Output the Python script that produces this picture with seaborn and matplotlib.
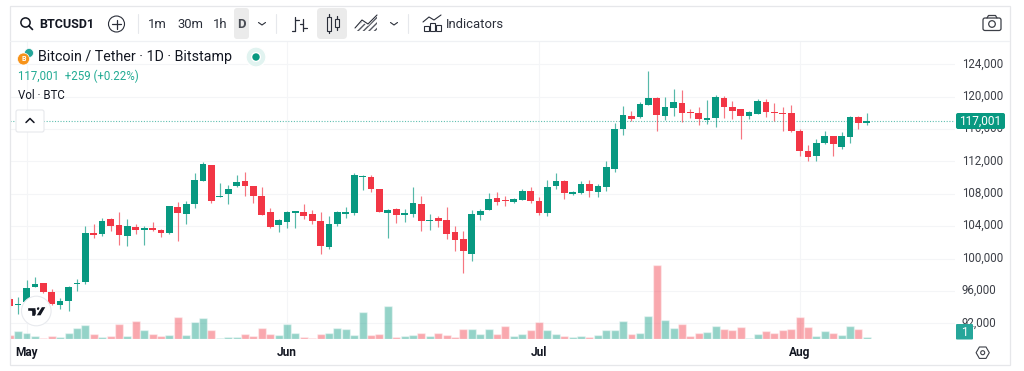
"""BTCUSD daily candles with volume, TradingView widget look."""
import numpy as np
import pandas as pd
import matplotlib
matplotlib.use('Agg')
import matplotlib.pyplot as plt
from matplotlib.patches import Circle, FancyBboxPatch, Polygon, Rectangle
from matplotlib.transforms import ScaledTranslation
import seaborn as sns

start_date = "2025-04-29"
opens = [94965, 94286, 94669, 96522, 96942, 95904, 94224, 94718, 96856, 97066,
         103120, 103070, 104887, 104108, 102786, 103935, 103527, 103738, 103527, 103120,
         106332, 105541, 106777, 109619, 111521, 107605, 107975, 108927, 109544, 108964,
         107691, 105751, 104108, 104553, 105665, 105789, 105504, 104677, 101427, 104269,
         105467, 105628, 110039, 110039, 108593, 105628, 106122, 105418, 105504, 106777,
         104602, 105047, 104726, 103256, 102354, 100600, 105381, 106035, 107444, 107197,
         107024, 107234, 108309, 107110, 105628, 108964, 109619, 107975, 108062, 109211,
         108259, 108877, 111101, 116006, 117612, 117452, 119008, 119873, 117575, 118638,
         119181, 118144, 117946, 117155, 117365, 119836, 118724, 118440, 117612, 117896,
         119379, 118106, 117983, 117946, 115759, 113288, 112670, 114239, 115104, 113782,
         114981, 117452, 116742]
highs = [95250, 95213, 97350, 97757, 96979, 96201, 95089, 96609, 97474, 104059,
         104232, 104973, 104973, 105714, 104924, 104232, 104022, 104479, 103688, 106530,
         106987, 107110, 110607, 111892, 111558, 109372, 109087, 110286, 110693, 109001,
         108877, 106209, 104850, 105875, 105875, 106740, 105998, 105751, 105257, 105875,
         106369, 110533, 110286, 110286, 108630, 106085, 106209, 106085, 108840, 107728,
         105541, 105220, 106406, 104022, 103367, 105937, 106085, 108136, 108260, 107691,
         107481, 108556, 108803, 107568, 109742, 110533, 109668, 108383, 109544, 109668,
         109174, 112015, 116710, 118811, 118193, 119305, 123135, 119923, 119997, 120911,
         120787, 118477, 118761, 119589, 120207, 120083, 119465, 118477, 118230, 119713,
         119676, 119218, 118724, 118934, 116006, 114029, 114734, 115759, 115141, 115673,
         117575, 117649, 117946]
lows = [94014, 93112, 94508, 96448, 95793, 94261, 93767, 93557, 95991, 96893,
        102539, 102786, 103441, 101637, 101588, 103070, 101674, 103404, 102699, 103083,
        102168, 104269, 106283, 109581, 106863, 107568, 106777, 108803, 107765, 106826,
        105344, 103775, 103243, 103812, 103738, 104924, 104269, 100562, 101217, 103984,
        105010, 105344, 108469, 108222, 105751, 102576, 104392, 104516, 105097, 103441,
        103527, 103935, 102416, 100958, 98215, 99697, 104800, 105961, 106653, 106456,
        106900, 107197, 106826, 105418, 105220, 108630, 107394, 107913, 107938, 107568,
        107568, 108383, 110656, 115302, 117032, 117365, 118971, 115796, 117155, 117612,
        116908, 117402, 116537, 116661, 116290, 117365, 117279, 114771, 117279, 117822,
        117489, 116994, 115759, 115635, 112707, 112052, 112015, 114190, 112707, 113498,
        114313, 116006, 116500]
closes = [94175, 94410, 96325, 96819, 95830, 94348, 94755, 96522, 97017, 103120,
          102947, 104677, 104022, 102873, 104059, 103527, 103775, 103490, 103194, 106493,
          105591, 106777, 109742, 111682, 107073, 107728, 108556, 109458, 108927, 107765,
          105418, 103935, 104726, 105751, 105838, 105257, 104677, 101551, 104306, 105751,
          105751, 110323, 110199, 108630, 105789, 106035, 105418, 105628, 106826, 104677,
          104800, 104639, 103070, 102255, 100933, 105504, 105838, 107321, 107024, 107073,
          107321, 108383, 107073, 105628, 108840, 109544, 108099, 108185, 109211, 108309,
          108927, 111348, 116006, 117699, 117242, 119095, 119799, 117736, 118687, 119342,
          118020, 117983, 117242, 117402, 119997, 118761, 118267, 117575, 118106, 119428,
          118106, 117983, 117896, 115722, 113324, 112547, 114276, 115141, 114153, 115104,
          117452, 116747, 117001]
volumes = [400, 800, 600, 270, 70, 330, 200, 600, 1130, 1430,
           530, 230, 270, 1500, 330, 1770, 930, 470, 330, 370,
           2230, 430, 1730, 2130, 930, 130, 170, 170, 470, 270,
           1070, 530, 390, 1530, 630, 170, 100, 500, 570, 1070,
           1030, 370, 2670, 370, 470, 3270, 230, 300, 400, 630,
           300, 570, 400, 230, 970, 1030, 500, 970, 470, 1330,
           270, 500, 900, 1730, 870, 470, 300, 230, 270, 170,
           400, 900, 900, 1800, 470, 600, 2330, 7400, 1900, 1100,
           1500, 300, 570, 700, 1300, 1030, 900, 1200, 130, 500,
           770, 600, 900, 970, 2200, 1170, 300, 800, 600, 370,
           1330, 1000, 200]
price_ticks = [92000, 96000, 100000, 104000, 108000, 112000, 116000, 120000, 124000]
last_price = 117001
legend_line = "117,001  +259 (+0.22%)"

GREEN = "#089981"
RED = "#F23645"
GRID = "#f4f5f7"
INK = "#2a2e39"

sns.set_theme(style="whitegrid", rc={"grid.color": GRID, "grid.linewidth": 0.8})
plt.rcParams['font.family'] = ['Roboto', 'DejaVu Sans']

dates = pd.date_range(start_date, periods=len(opens))
df = pd.DataFrame({"day": np.arange(len(opens)), "open": opens, "high": highs,
                   "low": lows, "close": closes, "volume": volumes})
df["up"] = df["close"] >= df["open"]
df["colour"] = np.where(df["up"], GREEN, RED)

fig = plt.figure(figsize=(10.24, 3.71), dpi=100, facecolor="white")
ax = fig.add_axes([10 / 1024, 1 - 339 / 371, 945 / 1024, 298 / 371])
ax_vol = ax.twinx()

# volume over the grid
sns.barplot(data=df, x="day", y="volume", hue="up", palette={True: GREEN, False: RED},
            native_scale=True, dodge=False, width=0.95, alpha=0.43, saturation=1,
            errorbar=None, legend=False, ax=ax_vol)
ax_vol.set_ylim(0, 29800)
ax_vol.axis("off")
ax_vol.patch.set_visible(False)

# candles
ax.vlines(df["day"], df["low"], df["high"], colors=df["colour"], lw=0.85, alpha=0.68, zorder=3)
ax.bar(df["day"], (df["close"] - df["open"]).abs(), bottom=df[["open", "close"]].min(axis=1),
       width=0.8, color=df["colour"], linewidth=0, zorder=4)

ax.set_xlim(0.036, 112.5)
ax.set_ylim(90060, 126879)
month_pos = [i for i, d in enumerate(dates) if d.day == 1]
ax.set_xticks(month_pos)
ax.set_xticklabels([dates[i].strftime("%b") for i in month_pos], fontsize=8.6,
                   fontweight="bold", color="#131722")
ax.yaxis.tick_right()
ax.set_yticks(price_ticks)
ax.set_yticklabels([f"{p:,}" for p in price_ticks], fontsize=8.3, color="#3c3f47")
ax.tick_params(axis="x", length=0, pad=5)
ax.tick_params(axis="y", length=0, pad=4.8)
ax.grid(True, zorder=0)
ax.set_axisbelow(True)
for s in ax.spines.values():
    s.set_visible(False)
# price labels sit a little above their grid lines
nudge = ScaledTranslation(0, 2 / 100, fig.dpi_scale_trans)
for t in ax.get_yticklabels():
    t.set_transform(t.get_transform() + nudge)

# last price line
ax.axhline(last_price, color="#5fbfb0", lw=0.8, ls=(0, (1, 1.5)), zorder=2)

# widget chrome on an overlay in pixel coordinates
ov = fig.add_axes([0, 0, 1, 1], zorder=10)
ov.set_xlim(0, 1024)
ov.set_ylim(371, 0)
ov.axis("off")
ov.patch.set_visible(False)


def rrect(x, y, w, h, r=3, fc="none", ec="none", lw=1, z=5):
    ov.add_patch(FancyBboxPatch((x + r, y + r), w - 2 * r, h - 2 * r,
                                boxstyle=f"round,pad={r}", fc=fc, ec=ec, lw=lw, zorder=z))


def line(xs, ys, c=INK, lw=0.9, z=6):
    ov.plot(xs, ys, color=c, lw=lw, zorder=z, solid_capstyle="round")


def label(x, y, s, size=9.4, c=INK, ha="left", weight="normal"):
    ov.text(x, y, s, fontsize=size, color=c, ha=ha, va="center", fontweight=weight, zorder=7)


# outer frame and toolbar rule
ov.add_patch(Rectangle((9.5, 6), 1000, 359, fc="none", ec="#e6e7ea", lw=0.9, zorder=3))
line([10, 1009], [41, 41], c="#eff1f4", lw=0.9, z=3)

# search box and symbol
ov.add_patch(Circle((25.5, 22.5), 4.6, fc="none", ec="#131722", lw=1.1, zorder=6))
line([29, 32.5], [26, 29.5], c="#131722", lw=1.2)
label(39, 24, "BTCUSD1", size=9, c="#131722", weight="bold")
ov.add_patch(Circle((116.5, 24), 8, fc="none", ec=INK, lw=0.8, zorder=6))
line([112, 121], [24, 24])
line([116.5, 116.5], [19.5, 28.5])
for sx in [138, 276, 408]:
    line([sx, sx], [14, 33], c="#e6e8ec", lw=0.8)

# intervals
label(148, 24, "1m")
label(177, 24, "30m")
label(213, 24, "1h")
rrect(234, 8, 15, 31, r=3, fc="#ebebeb")
label(241.5, 24, "D", size=9.4, c="#4a4d55", ha="center", weight="bold")
line([258.5, 262, 265.5], [22.5, 25, 22.5], lw=0.8)

# bar and candle style buttons
line([295, 295], [17, 31])
line([291.5, 295], [31, 31])
line([295, 298.5], [20, 20])
line([303, 303], [19, 31])
line([299.5, 303], [24, 24])
line([303, 306.5], [28, 28])
rrect(317, 8, 30, 31, r=4, fc="#ebebeb")
line([329, 329], [14, 33])
ov.add_patch(Rectangle((327, 17), 4, 14, fc="#ebebeb", ec=INK, lw=0.8, zorder=7))
line([337, 337], [16, 30])
ov.add_patch(Rectangle((335, 19), 4, 8, fc="#ebebeb", ec=INK, lw=0.8, zorder=7))

# area style icon
ov.add_patch(Polygon([(355, 31), (362, 22), (368, 26), (377, 16), (377, 31)], fc="none",
                     ec="#555861", lw=0, hatch="//////", zorder=6))
line([355, 362, 368, 377], [28, 20, 24, 15], lw=0.8)
line([390.5, 394, 397.5], [22.5, 25, 22.5], lw=0.8)

# indicators
for bx, by in [(424, 26), (430, 23), (436, 25)]:
    ov.add_patch(Rectangle((bx, by), 5, 31 - by, fc="none", ec=INK, lw=0.8, zorder=6))
line([423, 429, 434, 441], [22, 17, 20, 15], lw=0.8)
label(446, 24, "Indicators", size=9.4)

# camera
rrect(983, 18, 18, 12.5, r=2, ec="#3c3f47", lw=0.9)
line([987, 988.5, 995.5, 997], [18, 15.5, 15.5, 18], c="#3c3f47")
ov.add_patch(Circle((992, 24), 3.3, fc="none", ec="#3c3f47", lw=0.9, zorder=6))

# chart legend
ov.add_patch(Circle((29, 53), 4.5, fc="#26a69a", ec="white", lw=0.5, zorder=6))
ov.add_patch(Circle((23.5, 59), 6, fc="#f7931a", ec="white", lw=0.5, zorder=7))
ov.text(23.5, 59, "B", color="white", fontsize=5, ha="center", va="center", fontweight="bold", zorder=8)
label(38, 57.3, "Bitcoin / Tether · 1D · Bitstamp", size=10.25, c="#131722")
ov.add_patch(Circle((256, 57), 10, fc="#e1f3f0", zorder=5))
ov.add_patch(Circle((256, 57), 4.4, fc=GREEN, zorder=6))
label(18, 76, legend_line, size=8.3, c="#22ab94")
label(18, 95.5, "Vol · BTC", size=8.3, c="#131722")
rrect(16, 110, 28, 22, r=2, fc="white", ec="#e6e8ec", lw=0.8)
line([26, 30, 34], [122.5, 118.5, 122.5], c="#131722", lw=1.1)

# logo badge
ov.add_patch(Circle((36.3, 311), 14.8, fc="white", ec="#e8eaee", lw=0.8, zorder=5))
ov.add_patch(Polygon([(26.5, 306.5), (36, 306.5), (36, 316), (31, 316), (31, 311), (26.5, 311)],
                     fc="#131722", zorder=6))
ov.add_patch(Circle((38.3, 308.7), 2.1, fc="#131722", zorder=6))
ov.add_patch(Polygon([(41.5, 306.5), (46.5, 306.5), (41, 316), (35.5, 316)], fc="#131722", zorder=6))

# price and volume badges
rrect(956, 113, 49, 16, r=2, fc=GREEN)
label(980.5, 120.8, f"{last_price:,}", size=8.6, c="white", ha="center")
rrect(956, 324, 17, 15.5, r=1, fc="#26a69a")
label(964.5, 332, "1", size=8.6, c="white", ha="center")

# settings hexagon
angles = np.deg2rad(np.arange(0, 360, 60))
ov.add_patch(Polygon(np.column_stack([982.7 + 6.6 * np.cos(angles), 352.7 + 6.6 * np.sin(angles)]),
                     fc="none", ec="#3c3f47", lw=0.8, zorder=6))
ov.add_patch(Circle((982.7, 352.7), 2, fc="none", ec="#3c3f47", lw=0.8, zorder=6))

fig.savefig("out.png", dpi=100)
plt.close(fig)
